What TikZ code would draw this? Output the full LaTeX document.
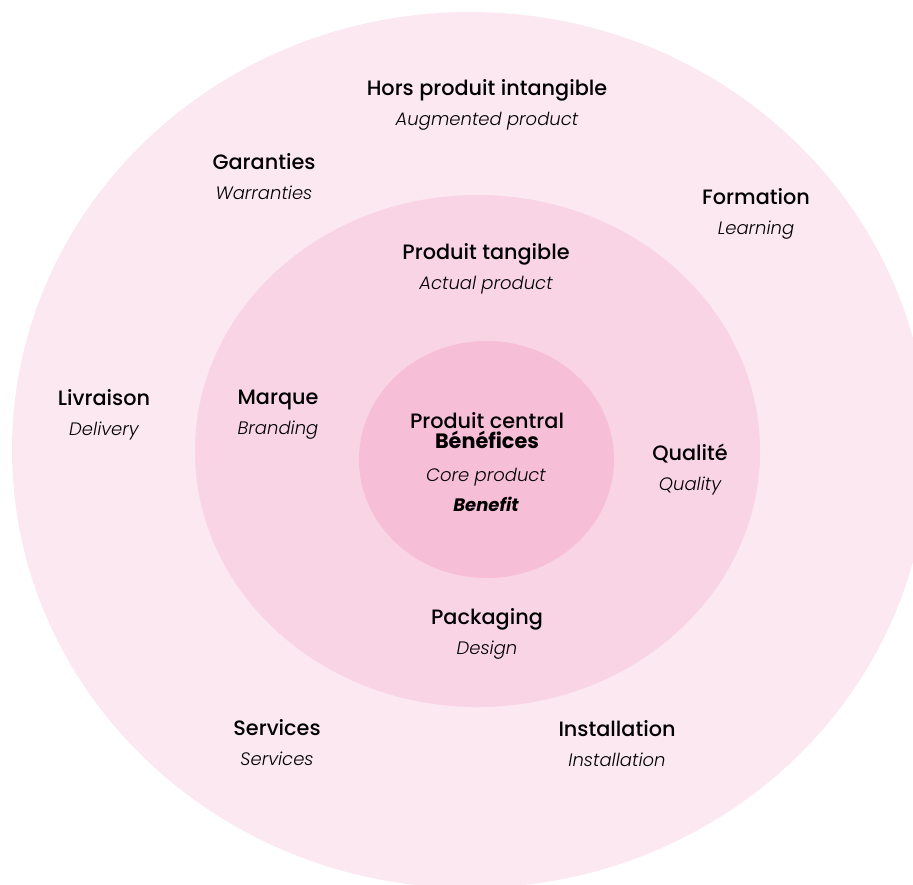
\documentclass[tikz,border=0pt]{standalone}
\usepackage{fontspec}
\setmainfont{Poppins}[UprightFont=* Medium,ItalicFont=* Light Italic,BoldFont=* Bold,BoldItalicFont=* Bold Italic]
\usepackage{tikz}
\usetikzlibrary{positioning}
\definecolor{ringout}{RGB}{252,232,241}
\definecolor{ringmid}{RGB}{249,212,229}
\definecolor{ringcore}{RGB}{247,190,215}
\tikzset{
  lvl/.style={align=center,inner sep=1pt,font=\fontsize{10.4}{15}\selectfont,text=black},
  eng/.style={font=\fontsize{9}{15}\selectfont\itshape}
}
\newcommand{\duo}[2]{#1\\{\fontsize{9}{15}\selectfont\itshape #2}}
\begin{document}
\begin{tikzpicture}[x=0.5pt,y=-0.5pt]
  \useasboundingbox (0,0) rectangle (913,884);
  \clip (0,0) rectangle (913,884);
  % rings
  \fill[ringout]  (470,450) ellipse [x radius=458, y radius=438];
  \fill[ringmid]  (477.5,451) ellipse [x radius=282.5, y radius=256];
  \fill[ringcore] (486.5,459.5) ellipse [x radius=127.5, y radius=118.5];
  % outer ring
  \node[lvl] (hors)    at (487,105) {\duo{Hors produit intangible}{Augmented product}};
  \node[lvl] (garant)  at (264,177) {\duo{Garanties}{Warranties}};
  \node[lvl] (format)  at (756,214) {\duo{Formation}{Learning}};
  \node[lvl] (livr)    at (104,415) {\duo{Livraison}{Delivery}};
  \node[lvl] (serv)    at (277,743) {\duo{Services}{Services}};
  \node[lvl] (instal)  at (617,744) {\duo{Installation}{Installation}};
  % middle ring
  \node[lvl] (tang)    at (486,269) {\duo{Produit tangible}{Actual product}};
  \node[lvl] (marque)  at (278,415) {\duo{Marque}{Branding}};
  \node[lvl] (qualite) at (690,470) {\duo{Qualité}{Quality}};
  \node[lvl] (pack)    at (487,634) {\duo{Packaging}{Design}};
  % core
  \node[lvl,font=\fontsize{10.4}{10}\selectfont] (central) at (487,431) {Produit central\\\textbf{Bénéfices}};
  \node[lvl,eng] (core) at (486,490) {Core product\\\textbf{Benefit}};
\end{tikzpicture}
\end{document}
